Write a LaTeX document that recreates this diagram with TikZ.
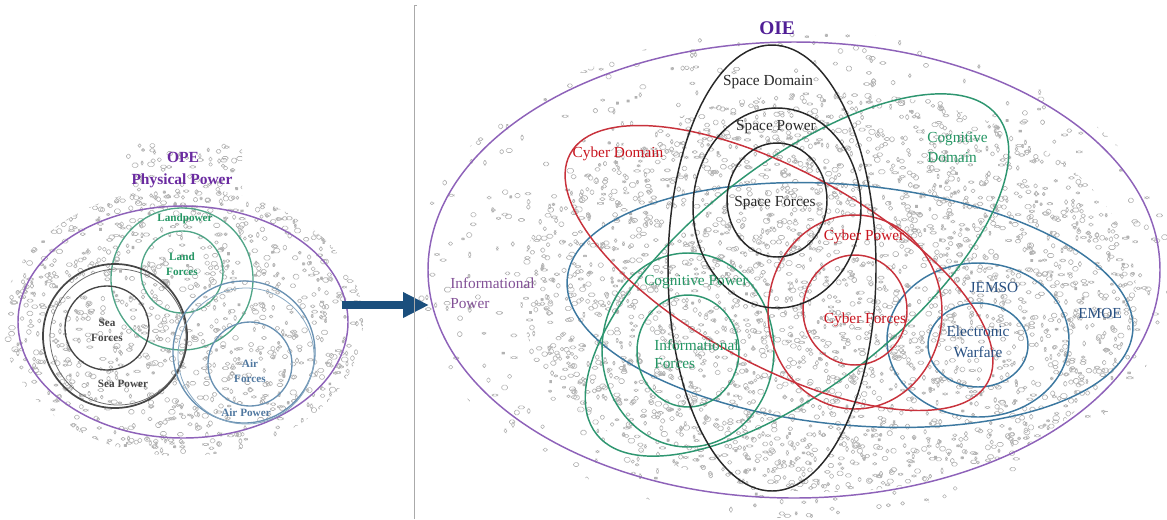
\documentclass[tikz,border=0pt]{standalone}
\usepackage{fontspec}
\setmainfont{Liberation Serif}
\usetikzlibrary{arrows.meta}
\definecolor{purpleline}{RGB}{142,98,185}
\definecolor{purpletext}{RGB}{106,42,160}
\definecolor{oietext}{RGB}{80,30,150}
\definecolor{infotext}{RGB}{130,80,150}
\definecolor{greenline}{RGB}{46,150,112}
\definecolor{greentext}{RGB}{36,150,100}
\definecolor{landline}{RGB}{80,165,135}
\definecolor{redline}{RGB}{200,50,60}
\definecolor{redtext}{RGB}{200,20,30}
\definecolor{blueline}{RGB}{60,120,160}
\definecolor{bluetext}{RGB}{40,80,130}
\definecolor{blackline}{RGB}{40,40,40}
\definecolor{sealine}{RGB}{70,70,70}
\definecolor{airline}{RGB}{105,145,178}
\definecolor{airtext}{RGB}{80,120,160}
\definecolor{arrowblue}{RGB}{27,79,125}
\definecolor{framegray}{RGB}{170,170,170}
\definecolor{speckle}{RGB}{178,178,178}
% scatter small rounded outlines inside a box: #1 count, #2 x0, #3 y0, #4 width, #5 height
\newcommand{\speckles}[5]{%
  \foreach \k in {1,...,#1}{%
    \pgfmathsetmacro\sx{#2+#4*rnd}%
    \pgfmathsetmacro\sy{#3+#5*rnd}%
    \pgfmathsetmacro\sw{2+4.5*rnd}%
    \pgfmathsetmacro\sh{2+3*rnd}%
    \draw[speckle,line width=0.45pt,rounded corners=1.2pt] (\sx,\sy) rectangle ++(\sw,\sh);
  }%
}
\begin{document}
\begin{tikzpicture}[x=0.75pt,y=-0.75pt,
  ring/.style={line width=1.1pt},
  smallring/.style={line width=1pt},
  lbl/.style={inner sep=0pt,align=center,font=\fontsize{11.5}{15}\selectfont},
  slbl/.style={inner sep=0pt,align=center,font=\fontsize{8.4}{11.2}\selectfont\bfseries},
  title/.style={inner sep=0pt,align=center,font=\fontsize{11.6}{14}\selectfont\bfseries},
]
\useasboundingbox (0,0) rectangle (1167,519);
\pgfmathsetseed{4242}

% ---------- background speckle ----------
\begin{scope}
  \clip (183,322) ellipse [x radius=180, y radius=134];
  \speckles{1300}{3}{188}{360}{270}
\end{scope}
\begin{scope}
  \clip (126,142) rectangle (242,208);
  \speckles{70}{126}{142}{116}{66}
\end{scope}
\begin{scope}
  \clip (794,274) ellipse [x radius=380, y radius=244];
  \speckles{1000}{414}{30}{753}{489}
\end{scope}
\begin{scope}
  \clip (828,292) ellipse [x radius=308, y radius=200];
  \speckles{3000}{518}{92}{620}{400}
\end{scope}

% ---------- left panel: physical power ----------
\draw[ring,purpleline] (183,322) ellipse [x radius=165, y radius=116];
\draw[smallring,landline] (182,279) circle [radius=71];
\draw[smallring,landline] (182,272) circle [radius=41];
\draw[line width=1.3pt,sealine] (115,336) circle [radius=72];
\draw[line width=0.6pt,sealine!80] (118,337) circle [radius=68];
\draw[smallring,sealine] (107,328) circle [radius=42];
\draw[smallring,airline] (244,352) circle [radius=71];
\draw[line width=0.6pt,airline!80] (246,356) circle [radius=68];
\draw[smallring,airline] (250,364) circle [radius=42];

\node[title,text=purpletext] (ope) at (183,157) {OPE};
\node[title,text=purpletext] (phys) at (182,181) {Physical Power};
\node[slbl,text=greentext] (landpower) at (185,219) {Landpower};
\node[slbl,text=greentext] (landforces) at (182,264) {Land\\Forces};
\node[slbl,text=sealine] (seaforces) at (107,330) {Sea\\Forces};
\node[slbl,text=sealine] (seapower) at (123,384) {Sea Power};
\node[slbl,text=airtext] (airforces) at (250,371) {Air\\Forces};
\node[slbl,text=airtext] (airpower) at (246,413) {Air Power};

% ---------- transition arrow ----------
\coordinate (arrowtail) at (342,305);
\coordinate (arrowtip) at (429,305);
\draw[arrowblue,line width=6pt,-{Triangle[length=19.5pt,width=18pt]}] (arrowtail) -- (arrowtip);

% ---------- right panel frame ----------
\draw[framegray,line width=0.6pt] (414,519) -- (414,5) -- (417,5);

% ---------- right panel: information environment ----------
\draw[ring,purpleline] (794,270) ellipse [x radius=366, y radius=228];
% EMOE
\draw[ring,blueline,rotate around={-5.4:(850,305)}] (850,305) ellipse [x radius=284, y radius=120];
% JEMSO and electronic warfare
\draw[ring,blueline] (978,340) ellipse [x radius=91, y radius=77];
\draw[ring,blueline] (978,345) ellipse [x radius=50, y radius=42];
% cognitive
\draw[ring,greenline,rotate around={38.5:(797,275)}] (797,275) ellipse [x radius=256, y radius=110];
\draw[ring,greenline] (688,350) ellipse [x radius=86, y radius=97];
\draw[ring,greenline] (688,351) ellipse [x radius=51, y radius=56];
% cyber
\draw[ring,redline,rotate around={-28.7:(779,268)}] (779,268) ellipse [x radius=238, y radius=97];
\draw[ring,redline] (855,312) ellipse [x radius=87, y radius=97];
\draw[ring,redline] (855,310) ellipse [x radius=52, y radius=55];
% space
\draw[ring,blackline] (772,268) ellipse [x radius=104, y radius=223];
\draw[ring,blackline] (777,208) ellipse [x radius=84, y radius=100];
\draw[ring,blackline] (777,200) ellipse [x radius=50, y radius=57];

\node[lbl,text=oietext,font=\fontsize{14.5}{16}\selectfont\bfseries] (oie) at (777,28) {OIE};
\node[lbl,text=infotext,anchor=west,align=left] (infopower) at (450,293) {Informational\\Power};
\node[lbl,text=blackline] (spacedomain) at (768,82) {Space Domain};
\node[lbl,text=blackline] (spacepower) at (776,127) {Space Power};
\node[lbl,text=blackline] (spaceforces) at (775,203) {Space Forces};
\node[lbl,text=redtext] (cyberdomain) at (618,154) {Cyber Domain};
\node[lbl,text=greentext,anchor=west,align=left] (cogdomain) at (927,147) {Cognitive\\Domain};
\node[lbl,text=redtext] (cyberpower) at (864,237) {Cyber Power};
\node[lbl,text=redtext] (cyberforces) at (865,320) {Cyber Forces};
\node[lbl,text=greentext] (cogpower) at (696,282) {Cognitive Power};
\node[lbl,text=greentext,anchor=west,align=left,font=\fontsize{11.5}{13.5}\selectfont] (infoforces) at (654,354) {Informational\\Forces};
\node[lbl,text=bluetext] (jemso) at (994,287) {JEMSO};
\node[lbl,text=bluetext,font=\fontsize{11.5}{15.7}\selectfont] (ew) at (978,342) {Electronic\\Warfare};
\node[lbl,text=bluetext] (emoe) at (1100,313) {EMOE};
\end{tikzpicture}
\end{document}
